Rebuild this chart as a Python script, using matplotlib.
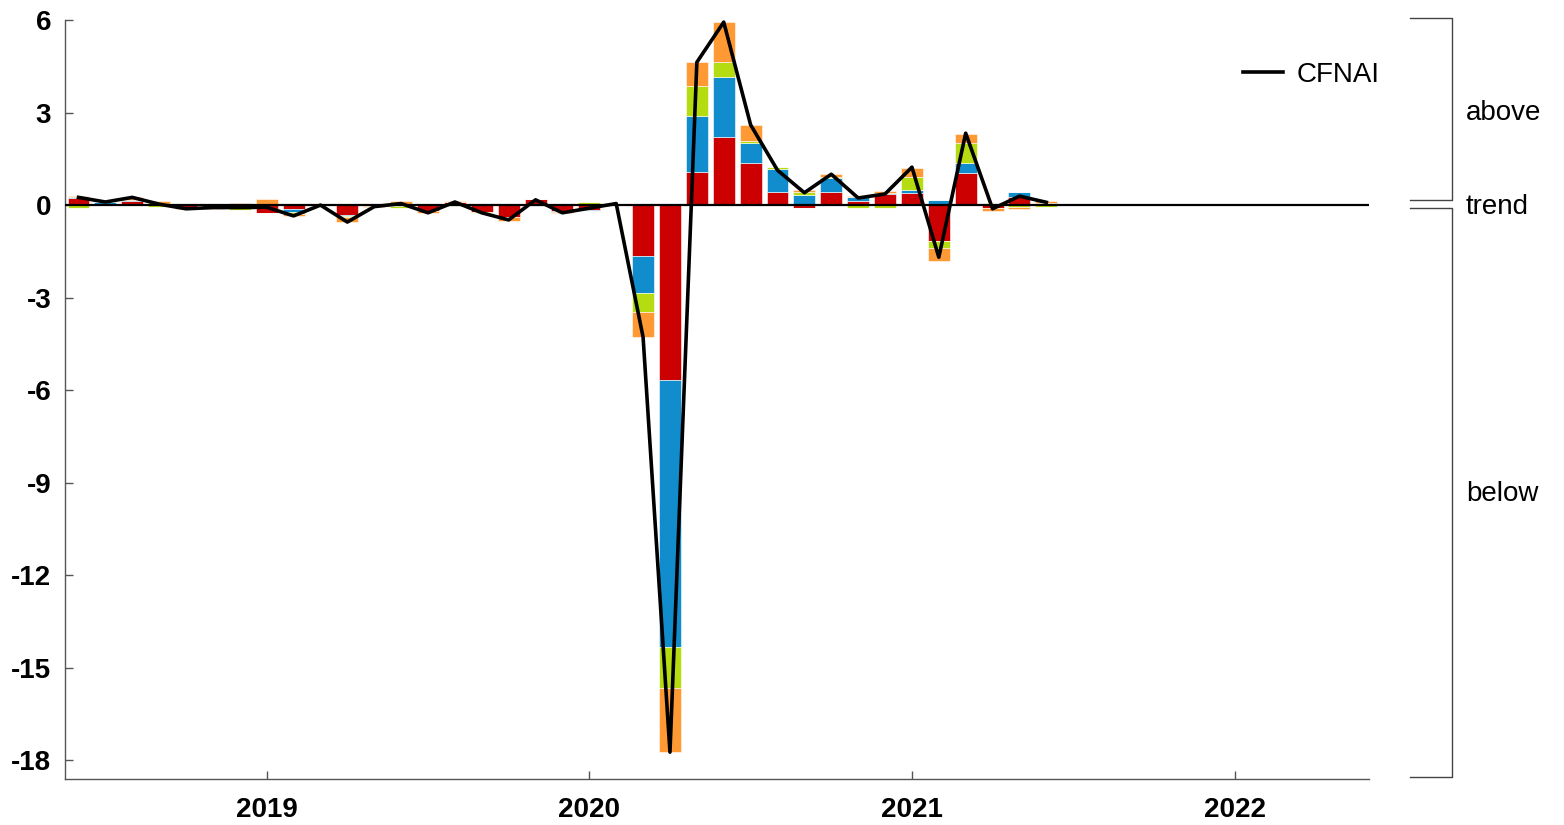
import matplotlib.pyplot as plt
import matplotlib.transforms as mtransforms
import numpy as np
import pandas as pd

plt.rcParams['font.family'] = ['Liberation Sans', 'DejaVu Sans']

# monthly data, Jun 2018 - Jun 2021
months = pd.date_range('2018-06-01', '2021-06-01', freq='MS')

cfnai = [0.25, 0.10, 0.25, 0.03, -0.12, -0.08, -0.08, -0.07, -0.35, 0.00,
         -0.55, -0.05, 0.05, -0.25, 0.10, -0.25, -0.48, 0.17, -0.25, -0.10,
         0.05, -4.28, -17.73, 4.63, 5.93, 2.60, 1.13, 0.40, 1.00, 0.23,
         0.36, 1.23, -1.69, 2.33, -0.12, 0.29, 0.09]

# contributions (production & income, employment, consumption & housing, sales/orders/inventories)
prod = [0.22, 0.02, 0.14, 0.00, -0.05, -0.06, -0.03, -0.27, -0.13, -0.03,
        -0.32, -0.02, -0.02, -0.18, 0.10, -0.22, -0.38, 0.19, -0.20, -0.16,
        0.00, -1.65, -5.67, 1.07, 2.20, 1.36, 0.42, -0.10, 0.42, 0.13,
        0.36, 0.38, -1.17, 1.04, -0.08, 0.26, 0.03]
empl = [0.05, 0.07, 0.03, 0.02, 0.00, 0.05, 0.00, 0.00, -0.09, 0.00,
        -0.03, 0.00, 0.00, 0.00, 0.00, -0.01, -0.02, -0.03, -0.01, -0.04,
        0.02, -1.20, -8.66, 1.81, 1.95, 0.64, 0.75, 0.32, 0.46, 0.13,
        0.02, 0.10, 0.16, 0.32, 0.04, 0.16, 0.05]
cons = [-0.08, 0.00, 0.00, -0.07, -0.02, -0.03, -0.12, 0.02, -0.08, 0.04,
        -0.05, 0.00, -0.06, 0.00, -0.02, -0.04, 0.00, 0.00, 0.00, 0.10,
        0.02, -0.62, -1.33, 0.98, 0.49, 0.07, 0.06, 0.10, 0.02, -0.10,
        -0.10, 0.42, -0.23, 0.64, 0.04, -0.07, -0.06]
sales = [0.04, 0.01, 0.08, 0.10, -0.06, -0.04, 0.07, 0.17, -0.05, -0.01,
         -0.15, -0.03, 0.13, -0.08, 0.02, 0.02, -0.10, 0.01, -0.06, 0.00,
         0.00, -0.81, -2.07, 0.77, 1.29, 0.52, 0.02, 0.06, 0.10, 0.05,
         0.08, 0.30, -0.42, 0.30, -0.12, -0.06, 0.06]

comp_colors = ['#cc0000', '#118ccc', '#b5dc10', '#ff9933']

x = months.year + (months.month - 1) / 12.0
fs = 20

fig = plt.figure(figsize=(15.64, 8.25), dpi=100)
ax = fig.add_axes([0.0416, 0.0558, 0.8337, 0.9200])

pos_base = np.zeros(len(x))
neg_base = np.zeros(len(x))
for vals, c in zip([prod, empl, cons, sales], comp_colors):
    v = np.array(vals)
    p = np.where(v > 0, v, 0)
    n = np.where(v < 0, v, 0)
    ax.bar(x, p, bottom=pos_base, width=0.068, color=c, edgecolor='white', linewidth=0.4, zorder=2)
    ax.bar(x, n, bottom=neg_base, width=0.068, color=c, edgecolor='white', linewidth=0.4, zorder=2)
    pos_base += p
    neg_base += n

ax.axhline(0, color='black', lw=1.6, zorder=3)
ax.plot(x, cfnai, color='black', lw=2.6, zorder=4, label='CFNAI')

yt = [6, 3, 0, -3, -6, -9, -12, -15, -18]
ax.set_xlim(2018 + 4.5 / 12, 2022 + 5 / 12)
ax.set_ylim(-18.6, 6)
ax.set_yticks(yt)
ax.set_xticks([2019, 2020, 2021, 2022])
ax.set_xticklabels(['2019', '2020', '2021', '2022'], fontweight='bold', fontsize=fs)
ax.set_yticklabels([str(t) for t in yt], fontweight='bold', fontsize=fs)
ax.tick_params(direction='in', length=6, color='#555555', width=1)
ax.tick_params(axis='x', pad=13)
ax.tick_params(axis='y', pad=10)

for s in ['top', 'right']:
    ax.spines[s].set_visible(False)
for s in ['left', 'bottom']:
    ax.spines[s].set_color('#555555')
    ax.spines[s].set_linewidth(1)

ax.legend(loc='center right', bbox_to_anchor=(1.0084, 0.928), frameon=False, fontsize=fs,
          handlelength=1.45, handletextpad=0.5, borderpad=0, borderaxespad=0)

# brackets on the right
trans = mtransforms.blended_transform_factory(ax.transAxes, ax.transData)
bx0, bx1 = 1.0314, 1.0636
ax.plot([bx0, bx1, bx1, bx0], [6.05, 6.05, 0.15, 0.15], transform=trans, color='#444444',
        lw=1, clip_on=False)
ax.plot([bx0, bx1, bx1, bx0], [-0.1, -0.1, -18.55, -18.55], transform=trans, color='#444444',
        lw=1, clip_on=False)
ax.text(1.0745, 3.0, 'above', transform=trans, fontsize=fs, va='center', ha='left')
ax.text(1.0745, -0.05, 'trend', transform=trans, fontsize=fs, va='center', ha='left')
ax.text(1.0745, -9.35, 'below', transform=trans, fontsize=fs, va='center', ha='left')

fig.savefig('out.png', dpi=100)
